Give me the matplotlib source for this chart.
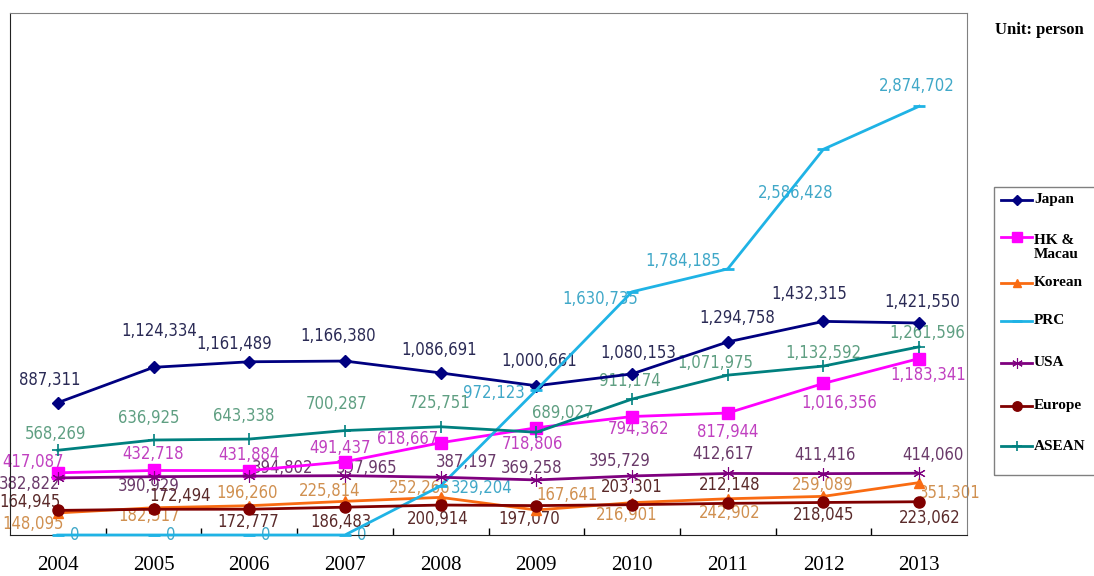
import matplotlib
matplotlib.use('Agg')
import matplotlib.pyplot as plt
from matplotlib.lines import Line2D
from matplotlib.patches import Rectangle
import numpy as np

years = ['2004', '2005', '2006', '2007', '2008', '2009', '2010', '2011', '2012', '2013']

japan = [887311, 1124334, 1161489, 1166380, 1086691, 1000661, 1080153, 1294758, 1432315, 1421550]
hk_macau = [417087, 432718, 431884, 491437, 618667, 718806, 794362, 817944, 1016356, 1183341]
korean = [148095, 182517, 196260, 225814, 252266, 167641, 216901, 242902, 259089, 351301]
prc = [0, 0, 0, 0, 329204, 972123, 1630735, 1784185, 2586428, 2874702]
usa = [382822, 390929, 394802, 397965, 387197, 369258, 395729, 412617, 411416, 414060]
europe = [164945, 172494, 172777, 186483, 200914, 197070, 203301, 212148, 218045, 223062]
asean = [568269, 636925, 643338, 700287, 725751, 689027, 911174, 1071975, 1132592, 1261596]

# label offsets from the point, in pixels (dx right, dy down as in the image)
off_japan = [(-8, -23), (6, -36), (-15, -18), (-7, -25), (-2, -23), (3, -25), (6, -21), (9, -24), (-14, -27), (3, -21)]
off_hk = [(-25, -11), (0, -16), (0, -16), (-5, -14), (-33, -4), (-4, 16), (6, 12), (0, 19), (16, 20), (9, 16)]
off_korean = [(-25, 11), (-4, 8), (-2, -13), (-15, -10), (-21, -9), (31, -15), (-5, 12), (2, 14), (-1, -11), (31, 10)]
off_prc = [(17, 0), (17, 0), (17, 0), (17, 0), (41, 2), (-42, 3), (-32, 7), (-45, -8), (-28, 44), (-2, -20)]
off_usa = [(-28, 6), (-5, 9), (33, -8), (22, -8), (26, -15), (-5, -12), (-12, -15), (-5, -19), (2, -19), (14, -18)]
off_europe = [(-28, -8), (27, -13), (-1, 13), (-4, 15), (-3, 14), (-7, 13), (0, -18), (2, -18), (0, 13), (11, 16)]
off_asean = [(-2, -16), (-5, -22), (-6, -23), (-8, -27), (-1, -24), (26, -19), (-2, -18), (-12, -12), (0, -13), (8, -14)]

series = [
    ('Japan', japan, '#000080', '#2a2a55', 'D', 6, 1.0, off_japan),
    ('HK &\nMacau', hk_macau, '#ff00ff', '#c040c0', 's', 8, 1.0, off_hk),
    ('Korean', korean, '#f96b12', '#d09050', '^', 7, 1.0, off_korean),
    ('PRC', prc, '#1fb3e5', '#40a8c8', '_', 9, 2.0, off_prc),
    ('USA', usa, '#7f007f', '#6a3a6a', (6, 2, 0), 9, 0.8, off_usa),
    ('Europe', europe, '#800000', '#5a2a2a', 'o', 8, 1.0, off_europe),
    ('ASEAN', asean, '#00807f', '#5f9f82', '+', 9, 1.2, off_asean),
]

W, H = 1094, 576
fig = plt.figure(figsize=(W / 100, H / 100), dpi=100)
ax = fig.add_axes([10 / W, 1 - 535 / H, (967 - 10) / W, (535 - 13) / H])

x = np.arange(len(years))

for name, vals, col, lcol, mk, ms, mew, offs in series:
    ax.plot(x, vals, color=col, lw=2, marker=mk, markersize=ms,
            markeredgewidth=mew, clip_on=False, zorder=3)
    for xi, v, (dx, dy) in zip(x, vals, offs):
        ax.annotate('{:,}'.format(v), (xi, v), xytext=(dx, -dy), textcoords='offset pixels',
                    ha='center', va='center', fontsize=12, color=lcol,
                    family='DejaVu Sans', stretch='condensed', zorder=2)

ax.set_xlim(-0.5, 9.5)
ax.set_ylim(0, 3500000)
ax.set_xticks(x)
ax.set_xticklabels(years, fontsize=15, family='Liberation Serif')
ax.set_xticks(np.arange(0.5, 9.5, 1), minor=True)
ax.tick_params(axis='x', which='major', length=0, pad=15)
ax.tick_params(axis='x', which='minor', direction='in', length=5, width=1)
ax.set_yticks([])
for s in ['top', 'right']:
    ax.spines[s].set_color('#808080')
for s in ['left', 'bottom']:
    ax.spines[s].set_color('#222222')

# unit text
fig.text(995 / W, 1 - 30 / H, 'Unit: person', fontsize=12, fontweight='bold',
         family='Liberation Serif', va='center', ha='left')

# legend drawn by hand (box runs off the right edge)
fig.add_artist(Rectangle((994 / W, 1 - 475 / H), 110 / W, 288 / H, transform=fig.transFigure,
                         fill=False, edgecolor='#808080', lw=1, clip_on=False))
leg_y = [200, 237, 283, 321, 363, 406, 446]
for (name, vals, col, lcol, mk, ms, mew, offs), ly in zip(series, leg_y):
    yy = 1 - ly / H
    fig.add_artist(Line2D([1001 / W, 1032 / W], [yy, yy], transform=fig.transFigure, color=col, lw=2))
    fig.add_artist(Line2D([1016.5 / W], [yy], transform=fig.transFigure, color=col, marker=mk,
                          markersize=ms * 0.85, markeredgewidth=mew, lw=0))
    ty = yy if '\n' not in name else 1 - 247.5 / H
    fig.text(1034 / W, ty, name, fontsize=11, fontweight='bold', family='Liberation Serif',
             va='center', ha='left', linespacing=1.1)

fig.savefig('out.png', dpi=100)
